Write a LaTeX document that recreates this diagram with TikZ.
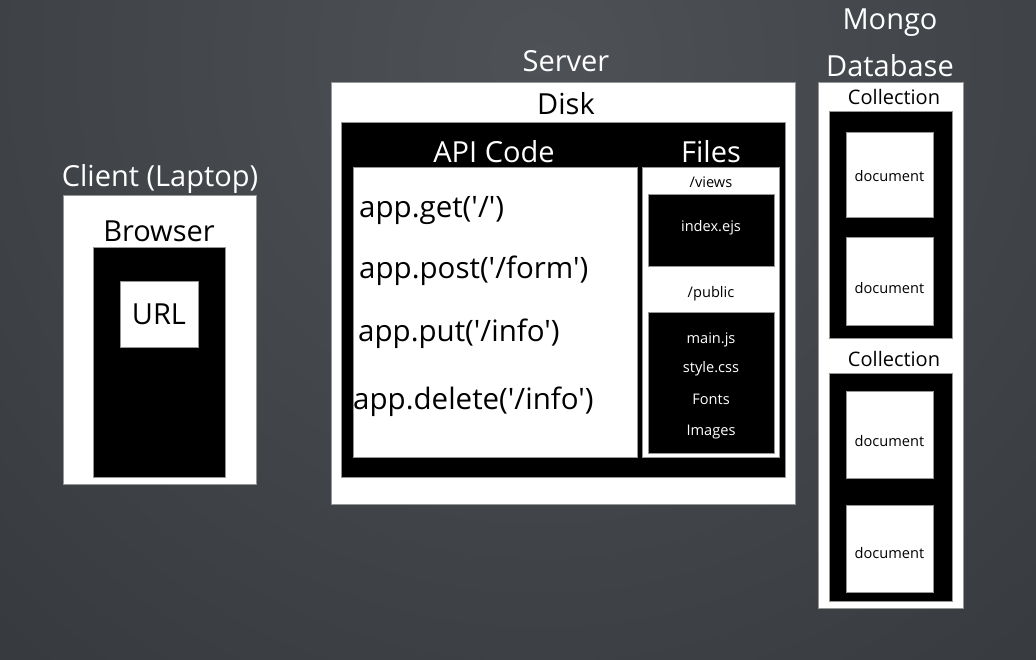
\documentclass[tikz,border=0pt]{standalone}
\usepackage{fontspec}
\setmainfont{Open Sans}[Ligatures=TeXOff]
\definecolor{bginner}{RGB}{78,81,86}
\definecolor{bgouter}{RGB}{46,49,53}
\definecolor{edgegray}{RGB}{150,150,150}

\begin{document}
\begin{tikzpicture}[x=1pt,y=-1pt,
   whitebox/.style={draw=edgegray, line width=0.6pt, fill=white, inner sep=0pt},
   blackbox/.style={draw=edgegray, line width=0.6pt, fill=black, inner sep=0pt},
   title/.style={text=white, font=\fontsize{29}{32}\selectfont, inner sep=0pt},
   biglabel/.style={text=black, font=\fontsize{29}{32}\selectfont, inner sep=0pt},
   code/.style={text=black, font=\fontsize{29.5}{32}\selectfont, inner sep=0pt, anchor=west},
   small/.style={font=\fontsize{14.6}{17}\selectfont, inner sep=0pt},
   coltitle/.style={text=black, font=\fontsize{20}{24}\selectfont, inner sep=0pt}]
\useasboundingbox (0,0) rectangle (1036,659);
\begin{scope}
\clip (0,0) rectangle (1036,659);
\shade[inner color=bginner, outer color=bgouter] (540,60) circle (1100);
\end{scope}
% client
\node[whitebox, minimum width=193, minimum height=289] (client) at (159.5,339.5) {};
\node[blackbox, minimum width=132, minimum height=230] (browser) at (159,362) {};
\node[whitebox, minimum width=78, minimum height=66] (url) at (159,314) {};
\node[title] (clienttxt) at (160,178.5) {Client (Laptop)};
\node[biglabel] (browsertxt) at (159,231) {Browser};
\node[biglabel] (urltxt) at (159,314) {URL};
% server
\node[whitebox, minimum width=464, minimum height=422] (server) at (563,293) {};
\node[blackbox, minimum width=444, minimum height=355] (disk) at (563,299.5) {};
\node[whitebox, minimum width=284, minimum height=290] (api) at (495,312) {};
\node[whitebox, minimum width=137, minimum height=290] (files) at (710.5,312) {};
\node[blackbox, minimum width=126, minimum height=72] (views) at (711,230) {};
\node[blackbox, minimum width=126, minimum height=141] (public) at (711,382.5) {};
\node[title] (servertxt) at (566,61) {Server};
\node[biglabel] (disktxt) at (566,104) {Disk};
\node[title] (apitxt) at (494,152) {API Code};
\node[title] (filestxt) at (711,152) {Files};
\node[code] (get) at (359,211) {app.get('/')};
\node[code] (post) at (359,271) {app.post('/form')};
\node[code] (put) at (358,334) {app.put('/info')};
\node[code] (delete) at (353,402) {app.delete('/info')};
\node[small] (viewstxt) at (711,182.5) {/views};
\node[small, text=white] (indextxt) at (711,227.5) {index.ejs};
\node[small] (publictxt) at (711,294) {/public};
\node[small, text=white] (mainjs) at (711,339.5) {main.js};
\node[small, text=white] (stylecss) at (711,368.5) {style.css};
\node[small, text=white] (fonts) at (711,399.5) {Fonts};
\node[small, text=white] (images) at (711,432) {Images};
% mongo
\node[whitebox, minimum width=145, minimum height=526] (mongo) at (890.5,345) {};
\node[blackbox, minimum width=123, minimum height=227] (coll1) at (890.5,224.5) {};
\node[blackbox, minimum width=123, minimum height=228] (coll2) at (890.5,487) {};
\foreach \n/\y/\h/\t in {doc1/174.5/85/176.5, doc2/281/88/288.5, doc3/434.5/87/441.5, doc4/548.5/87/553.5}{
   \node[whitebox, minimum width=87, minimum height=\h] (\n) at (889.5,\y) {};
   \node[small] (\n txt) at (889.5,\t) {document};
}
\node[title] (mongotxt) at (890,23) {Mongo};
\node[title] (dbtxt) at (890,66) {Database};
\node[coltitle] (coll1txt) at (894,97) {Collection};
\node[coltitle] (coll2txt) at (894,359) {Collection};
\end{tikzpicture}
\end{document}
